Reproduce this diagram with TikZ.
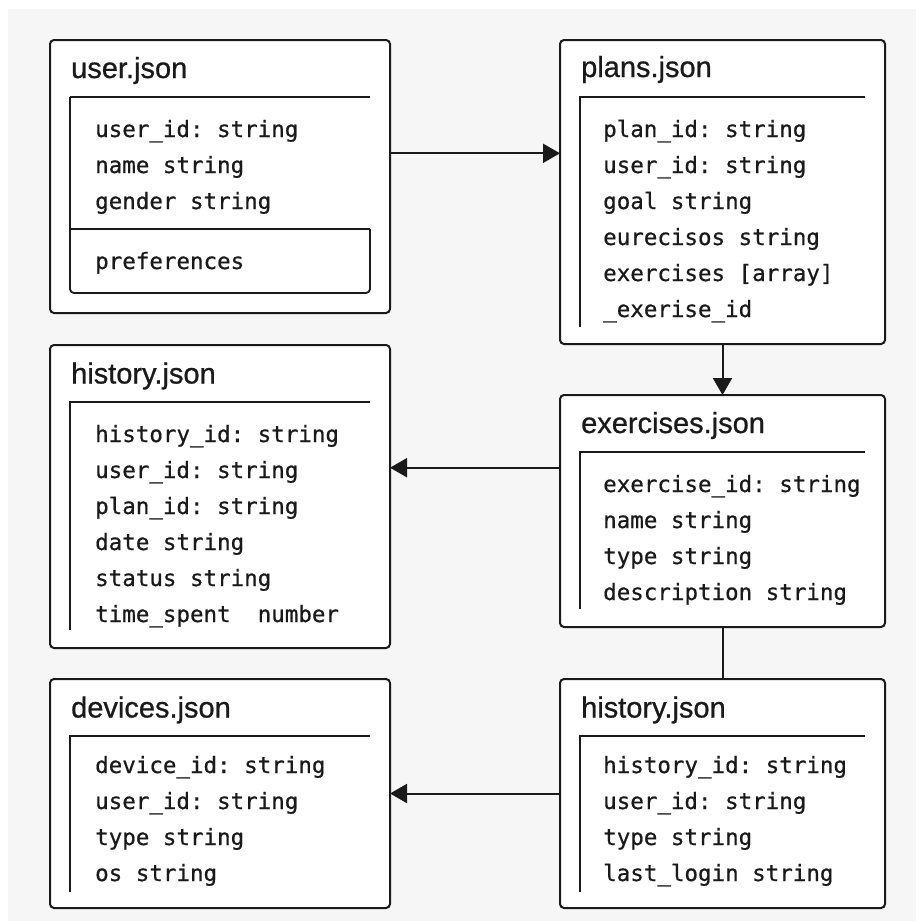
\documentclass[tikz,border=0pt]{standalone}
\usepackage{fontspec}
\setmainfont{Liberation Sans}[FakeBold=0.8]
\setmonofont{DejaVu Sans Mono}[FakeBold=0.6]
\usetikzlibrary{arrows.meta}
\definecolor{ink}{HTML}{1A1A1A}
\definecolor{paper}{HTML}{F6F6F6}
\tikzset{
  jsonbox/.style={draw=ink, line width=2pt, fill=white, rounded corners=4pt, anchor=north west, inner sep=0pt, outer sep=0pt},
  boxtitle/.style={anchor=base west, inner sep=0pt, text=ink, font=\fontsize{29}{34}\selectfont},
  field/.style={anchor=base west, inner sep=0pt, text=ink, font=\ttfamily\fontsize{22.5}{27}\selectfont},
  rule/.style={draw=ink, line width=1.8pt},
  link/.style={draw=ink, line width=2pt, -{Triangle[length=17pt,width=19pt]}}
}

\begin{document}
\begin{tikzpicture}[x=1pt,y=-1pt]
\useasboundingbox (0,0) rectangle (916,921);
\fill[paper] (8,9) rectangle (916,921);

\node[jsonbox, minimum width=340pt, minimum height=273pt] (user) at (50,40) {};
\node[jsonbox, minimum width=325pt, minimum height=304pt] (plans) at (560,40) {};
\node[jsonbox, minimum width=340pt, minimum height=303pt] (histl) at (50,345) {};
\node[jsonbox, minimum width=325pt, minimum height=232pt] (exer) at (560,395) {};
\node[jsonbox, minimum width=340pt, minimum height=229pt] (dev) at (50,679) {};
\node[jsonbox, minimum width=325pt, minimum height=229pt] (histr) at (560,679) {};

\node[boxtitle] (usert) at (71,78) {user.json};
\draw[rule] (370,97) -- (70,97);
\draw[rule] (70,229) -- (370,229);
\draw[rule, rounded corners=4pt] (370,229) -- (370,293) -- (70,293) -- (70,97);
\foreach \t [count=\i] in {user\_id: string, name string, gender string}
  \node[field] (userf\i) at (95,{101+36*\i}) {\t};
\node[field] (userp) at (95,269) {preferences};

\node[boxtitle] (planst) at (581,77) {plans.json};
\draw[rule] (865,97) -- (580,97) -- (580,327);
\foreach \t [count=\i] in {plan\_id: string, user\_id: string, goal string, eurecisos string, {exercises [array]}, \_exerise\_id}
  \node[field] (plansf\i) at (603,{101+36*\i}) {\t};

\node[boxtitle] (histlt) at (71,383.5) {history.json};
\draw[rule] (370,402) -- (70,402) -- (70,630);
\foreach \t [count=\i] in {history\_id: string, user\_id: string, plan\_id: string, date string, status string, time\_spent\ \ number}
  \node[field] (histlf\i) at (95,{406+36*\i}) {\t};

\node[boxtitle] (exert) at (581,433) {exercises.json};
\draw[rule] (865,452) -- (580,452) -- (580,609);
\foreach \t [count=\i] in {exercise\_id: string, name string, type string, description string}
  \node[field] (exerf\i) at (603,{456+36*\i}) {\t};

\node[boxtitle] (devt) at (71,717.5) {devices.json};
\draw[rule] (370,736) -- (70,736) -- (70,892);
\foreach \t [count=\i] in {device\_id: string, user\_id: string, type string, os string}
  \node[field] (devf\i) at (95,{737+36*\i}) {\t};

\node[boxtitle] (histrt) at (581,717.5) {history.json};
\draw[rule] (865,736) -- (580,736) -- (580,892);
\foreach \t [count=\i] in {history\_id: string, user\_id: string, type string, last\_login string}
  \node[field] (histrf\i) at (603,{737+36*\i}) {\t};

\coordinate (row1) at (0,153.3);
\coordinate (row2) at (0,467.7);
\draw[link] (user.east |- row1) -- (plans.west |- row1);
\draw[link] (plans.south) -- (exer.north);
\draw[link] (exer.west |- row2) -- (histl.east |- row2);
\draw[draw=ink, line width=2pt] (exer.south) -- (histr.north);
\draw[link] (histr.west) -- (dev.east);
\end{tikzpicture}
\end{document}
